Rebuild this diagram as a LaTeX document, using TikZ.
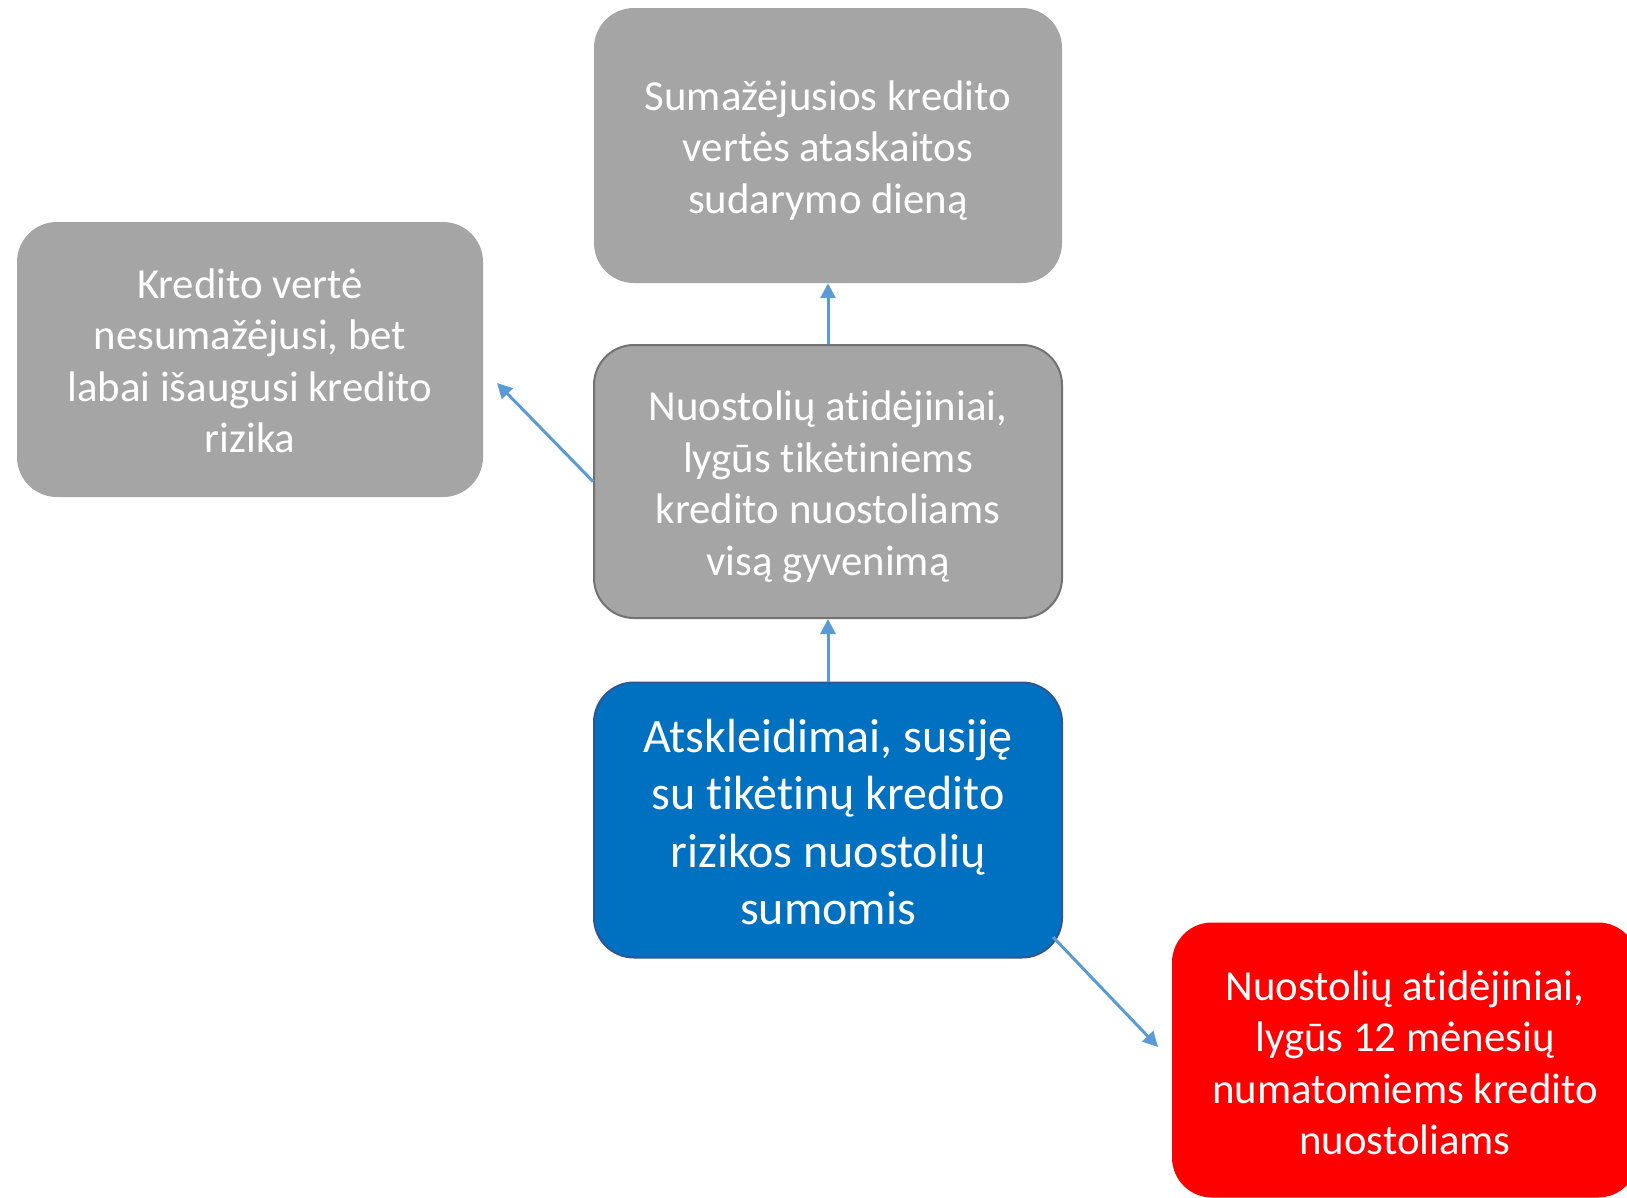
\documentclass[tikz,border=0pt]{standalone}
\usepackage{fontspec}
\setmainfont{Carlito}[Ligatures={NoCommon}]
\usetikzlibrary{arrows.meta}
\definecolor{boxgray}{HTML}{A5A5A5}
\definecolor{midborder}{HTML}{727272}
\definecolor{boxblue}{HTML}{0070C0}
\definecolor{blueborder}{HTML}{2F5597}
\definecolor{boxred}{HTML}{FF0000}
\definecolor{arrowblue}{HTML}{5B9BD5}
\begin{document}
\begin{tikzpicture}[x=1pt,y=1pt,
  box/.style={rounded corners=40pt, minimum width=468pt, minimum height=275pt, inner sep=0pt},
  graybox/.style={box, fill=boxgray},
  midbox/.style={box, fill=boxgray, draw=midborder, line width=2pt, minimum height=273pt},
  bluebox/.style={box, fill=boxblue, draw=blueborder, line width=2pt},
  redbox/.style={box, fill=boxred},
  txt/.style={inner sep=0pt, align=center, text=white, font=\fontsize{42.8}{51.5}\selectfont},
  bigtxt/.style={txt, font=\fontsize{48}{57.5}\selectfont},
  conn/.style={draw=arrowblue, line width=3pt, -{Triangle[length=15pt,width=15pt]}}]
\useasboundingbox (0,0) rectangle (1627,-1197);
\clip (0,0) rectangle (1627,-1197);
\fill[white] (0,0) rectangle (1627,-1197);
\node[graybox] (top) at (828,-145.5) {};
\node[txt] (toptext) at ([yshift=-4.7pt]top.center) {Sumažėjusios kredito\\vertės ataskaitos\\sudarymo dieną};
\node[graybox, minimum width=466pt] (left) at (250,-359.5) {};
\node[txt] (lefttext) at ([yshift=-1.5pt]left.center) {Kredito vertė\\nesumažėjusi, bet\\labai išaugusi kredito\\rizika};
\node[midbox] (mid) at (828,-481.5) {};
\node[txt] (midtext) at ([yshift=-5.5pt]mid.center) {Nuostolių atidėjiniai,\\lygūs tikėtiniems\\kredito nuostoliams\\visą gyvenimą};
\node[bluebox] (blue) at (828,-820) {};
\node[bigtxt] (bluetext) at ([yshift=-2pt]blue.center) {Atskleidimai, susiję\\su tikėtinų kredito\\rizikos nuostolių\\sumomis};
\node[redbox, minimum width=466pt] (red) at (1405,-1060) {};
\node[txt] (redtext) at ([yshift=-2.7pt]red.center) {Nuostolių atidėjiniai,\\lygūs 12 mėnesių\\numatomiems kredito\\nuostoliams};
\coordinate (lefttip) at (497,-383);
\coordinate (bluecorner) at (1053,-937);
\coordinate (redtip) at (1158,-1047);
\draw[conn] (mid.north) -- (top.south);
\draw[conn] (blue.north) -- (mid.south);
\draw[conn] (mid.west) -- (lefttip);
\draw[conn] (bluecorner) -- (redtip);
\end{tikzpicture}
\end{document}
